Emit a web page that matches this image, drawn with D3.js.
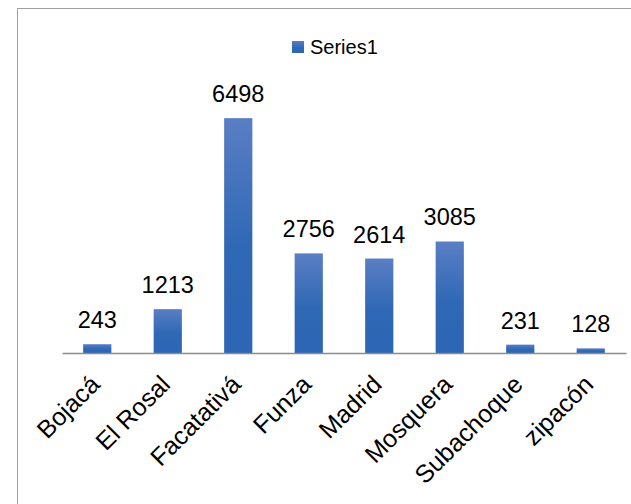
<!DOCTYPE html>
<html>
<head>
<meta charset="utf-8">
<script src="https://cdn.jsdelivr.net/npm/d3@7"></script>
<style>
  body { margin: 0; background: #fff; }
  text { font-family: "Liberation Sans", Arial, sans-serif; fill: #000; }
</style>
</head>
<body>
<script>
var categories = ["Bojacá", "El Rosal", "Facatativá", "Funza", "Madrid", "Mosquera", "Subachoque", "zipacón"];
var values = [243, 1213, 6498, 2756, 2614, 3085, 231, 128];
var seriesName = "Series1";

var W = 631, H = 504;
var margin = { top: 100, right: 5, bottom: 151, left: 62 },
  width = W - margin.left - margin.right,
  height = H - margin.top - margin.bottom;

var svg = d3.select("body").append("svg")
  .attr("width", W)
  .attr("height", H);

// gradient for the bars
var defs = svg.append("defs");
var grad = defs.append("linearGradient")
  .attr("id", "barGrad")
  .attr("x1", 0).attr("y1", 0).attr("x2", 0).attr("y2", 1);
grad.append("stop").attr("offset", "0%").attr("stop-color", "#5a7ec4");
grad.append("stop").attr("offset", "55%").attr("stop-color", "#2f68b5");
grad.append("stop").attr("offset", "100%").attr("stop-color", "#2c66b4");

// chart frame
svg.append("rect")
  .attr("x", 17.5).attr("y", 8.5)
  .attr("width", W + 10).attr("height", H + 10)
  .attr("fill", "none")
  .attr("stroke", "#a0a0a0");

var g = svg.append("g")
  .attr("transform", "translate(" + margin.left + "," + margin.top + ")");

var x = d3.scaleBand()
  .domain(categories)
  .range([0, width])
  .paddingInner(0.6)
  .paddingOuter(0.3);

var y = d3.scaleLinear()
  .domain([0, 7000])
  .range([height, 0]);

g.selectAll(".bar")
  .data(values)
  .enter().append("rect")
  .attr("class", "bar")
  .attr("x", function (d, i) { return x(categories[i]); })
  .attr("y", function (d) { return y(d); })
  .attr("width", x.bandwidth())
  .attr("height", function (d) { return height - y(d); })
  .attr("fill", "url(#barGrad)");

g.selectAll(".val")
  .data(values)
  .enter().append("text")
  .attr("class", "val")
  .attr("x", function (d, i) { return x(categories[i]) + x.bandwidth() / 2; })
  .attr("y", function (d) { return y(d) - 16; })
  .attr("text-anchor", "middle")
  .style("font-size", "23.5px")
  .text(function (d) { return d; });

// x axis
var xAxis = d3.axisBottom(x).tickSize(0).tickPadding(0);
var ax = g.append("g")
  .attr("transform", "translate(0," + height + ")")
  .call(xAxis);
ax.select(".domain").attr("stroke", "#8c8c8c").attr("stroke-width", 1.5);
ax.selectAll(".tick text")
  .attr("text-anchor", "end")
  .attr("dy", 0)
  .attr("transform", "translate(4,33) rotate(-45)")
  .style("font-size", "25px")
  .style("font-family", "'Liberation Sans', Arial, sans-serif")
  .attr("fill", "#000");

// legend
var leg = svg.append("g").attr("transform", "translate(292,41)");
leg.append("rect").attr("width", 12).attr("height", 12).attr("fill", "url(#barGrad)");
leg.append("text")
  .attr("x", 18).attr("y", 13)
  .style("font-size", "20px")
  .text(seriesName);
</script>
</body>
</html>
